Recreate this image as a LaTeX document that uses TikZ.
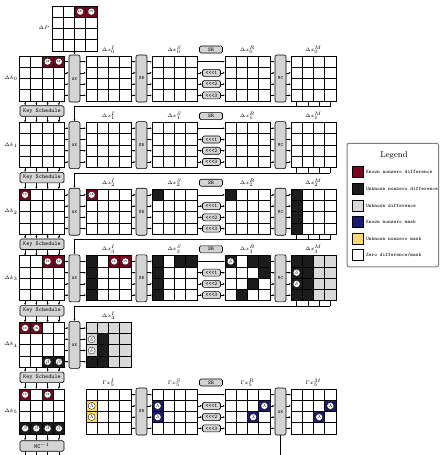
\documentclass[tikz,border=0pt]{standalone}
\usepackage{amsmath}
\usepackage{fontspec}
\usepackage{tikz}
\usetikzlibrary{arrows.meta}

\definecolor{kred}{RGB}{122,0,32}
\definecolor{kblack}{RGB}{28,28,28}
\definecolor{kgrey}{RGB}{217,217,217}
\definecolor{kblue}{RGB}{26,26,112}
\definecolor{kyellow}{RGB}{255,217,102}
\definecolor{boxgrey}{RGB}{212,212,212}

% 4x4 state: name, left x, top y
\newcommand{\stategrid}[3]{%
  \foreach \gi in {0,...,3}{%
    \foreach \gj in {0,...,3}{%
      \node[cell] (#1-\gi-\gj) at ({#2+5.625+11.25*\gj},{#3+5.625+11.25*\gi}) {};
    }
  }
}
\newcommand{\paintcells}[2]{\foreach \cl in {#2}{\node[cell,fill=#1] (\cl-p) at (\cl) {};}}
\newcommand{\cellvals}[2]{\foreach \cl in {#2}{\node[val] (\cl-v) at (\cl) {$#1$};}}

\begin{document}
\begin{tikzpicture}[x=1pt,y=-1pt,
  cell/.style={draw,line width=0.9pt,minimum size=11.25pt,inner sep=0pt,outer sep=0pt},
  val/.style={circle,fill=white,draw=black,line width=0.3pt,minimum size=7pt,inner sep=0pt,font=\fontsize{4.5}{5}\selectfont},
  opbox/.style={draw,line width=0.6pt,fill=boxgrey,rounded corners=2pt,minimum width=11pt,minimum height=47pt,inner sep=0pt,font=\fontsize{4.8}{5}\selectfont\ttfamily},
  srbox/.style={draw,line width=0.6pt,fill=boxgrey,rounded corners=1.5pt,minimum width=23pt,minimum height=7pt,inner sep=0pt,font=\fontsize{5.5}{6}\selectfont\ttfamily},
  rotbox/.style={srbox,minimum width=18pt},
  ksbox/.style={srbox,minimum width=44pt,minimum height=10.5pt,font=\fontsize{5.9}{6}\selectfont\ttfamily},
  lab/.style={inner sep=0pt,font=\fontsize{5.5}{6}\selectfont},
  arr/.style={line width=0.6pt,-{Latex[length=2.2pt,width=2pt]}},
  conn/.style={line width=0.6pt},
  swatch/.style={draw,line width=0.8pt,minimum size=11pt,inner sep=0pt},
  legtext/.style={inner sep=0pt,anchor=west,font=\fontsize{5.2}{6}\selectfont\ttfamily}]
\useasboundingbox (0,0) rectangle (439,455);

% plaintext difference
\stategrid{p}{52}{6}
\node[lab] (p-lab) at (44,28) {$\Delta P$};

% full rounds
\foreach \rw/\y in {0/56,1/122.6,2/189.2,3/255.8}{
  \stategrid{k\rw}{19.5}{\y}
  \stategrid{xi\rw}{86}{\y}
  \stategrid{xs\rw}{152}{\y}
  \stategrid{xr\rw}{225}{\y}
  \stategrid{xm\rw}{291}{\y}
  \node[opbox] (ak\rw) at (74.5,\y+22.5) {AK};
  \node[opbox] (sb\rw) at (141.5,\y+22.5) {SB};
  \node[opbox] (mc\rw) at (280.5,\y+22.5) {MC};
  \node[srbox] (sr\rw) at (211,\y-6.5) {SR};
  \node[lab] (k\rw-lab) at (11,\y+22.5) {$\Delta k_{\rw}$};
  \node[lab] (xi\rw-lab) at (108.5,\y-6.5) {$\Delta x_{\rw}^{I}$};
  \node[lab] (xs\rw-lab) at (174.5,\y-6.5) {$\Delta x_{\rw}^{S}$};
  \node[lab] (xr\rw-lab) at (247.5,\y-6.5) {$\Delta x_{\rw}^{R}$};
  \node[lab] (xm\rw-lab) at (313.5,\y-6.5) {$\Delta x_{\rw}^{M}$};
  \foreach \ii in {1,2,3}
    \node[rotbox] (rot\rw\ii) at (211.5,\y+5.625+11.25*\ii) {<<<\ii};
  \foreach \ii in {0,...,3}{
    \draw[arr] (k\rw-\ii-3.east) -- (k\rw-\ii-3.east -| ak\rw.west);
    \draw[arr] (xi\rw-\ii-0.west -| ak\rw.east) -- (xi\rw-\ii-0.west);
    \draw[arr] (xi\rw-\ii-3.east) -- (xi\rw-\ii-3.east -| sb\rw.west);
    \draw[arr] (xs\rw-\ii-0.west -| sb\rw.east) -- (xs\rw-\ii-0.west);
    \draw[arr] (xr\rw-\ii-3.east) -- (xr\rw-\ii-3.east -| mc\rw.west);
    \draw[arr] (xm\rw-\ii-0.west -| mc\rw.east) -- (xm\rw-\ii-0.west);
  }
  \draw[arr] (xs\rw-0-3.east) -- (xr\rw-0-0.west);
  \foreach \ii in {1,2,3}{
    \draw[arr] (xs\rw-\ii-3.east) -- (rot\rw\ii.west);
    \draw[arr] (rot\rw\ii.east) -- (xr\rw-\ii-0.west);
  }
}
\draw[arr] (p-3-1.south east) -- (ak0.north);

% round 4 (partial)
\stategrid{k4}{19.5}{322.4}
\stategrid{xi4}{86}{322.4}
\node[opbox] (ak4) at (74.5,344.9) {AK};
\node[lab] (k4-lab) at (11,344.9) {$\Delta k_{4}$};
\node[lab] (xi4-lab) at (108.5,315.9) {$\Delta x_{4}^{I}$};
\foreach \ii in {0,...,3}{
  \draw[arr] (k4-\ii-3.east) -- (k4-\ii-3.east -| ak4.west);
  \draw[arr] (xi4-\ii-0.west -| ak4.east) -- (xi4-\ii-0.west);
}

% round 5 (masks)
\stategrid{k5}{19.5}{389}
\stategrid{gi5}{86}{389}
\stategrid{gs5}{152}{389}
\stategrid{gr5}{225}{389}
\stategrid{gm5}{291}{389}
\node[opbox] (sb5) at (141.5,411.5) {SB};
\node[opbox] (ak5) at (280.5,411.5) {AK};
\node[srbox] (sr5) at (211,382.5) {SR};
\node[lab] (k5-lab) at (11,411.5) {$\Delta k_{5}$};
\node[lab] (gi5-lab) at (108.5,382.5) {$\Gamma x_{5}^{I}$};
\node[lab] (gs5-lab) at (174.5,382.5) {$\Gamma x_{5}^{S}$};
\node[lab] (gr5-lab) at (247.5,382.5) {$\Gamma x_{5}^{R}$};
\node[lab] (gm5-lab) at (313.5,382.5) {$\Gamma x_{5}^{M}$};
\foreach \ii in {1,2,3}
  \node[rotbox] (rot5\ii) at (211.5,394.625+11.25*\ii) {<<<\ii};
\foreach \ii in {0,...,3}{
  \draw[arr] (gi5-\ii-3.east) -- (gi5-\ii-3.east -| sb5.west);
  \draw[arr] (gs5-\ii-0.west -| sb5.east) -- (gs5-\ii-0.west);
  \draw[arr] (gr5-\ii-3.east) -- (gr5-\ii-3.east -| ak5.west);
  \draw[arr] (gm5-\ii-0.west -| ak5.east) -- (gm5-\ii-0.west);
}
\draw[arr] (gs5-0-3.east) -- (gr5-0-0.west);
\foreach \ii in {1,2,3}{
  \draw[arr] (gs5-\ii-3.east) -- (rot5\ii.west);
  \draw[arr] (rot5\ii.east) -- (gr5-\ii-0.west);
}
\coordinate (kin) at (280.5,456);
\draw[conn] (kin) -- (ak5.south);

% key schedule
\foreach \rw/\nx/\y in {0/1/56,1/2/122.6,2/3/189.2,3/4/255.8,4/5/322.4}{
  \node[ksbox] (ks\rw) at (42,\y+55) {Key Schedule};
  \foreach \jj in {0,...,3}{
    \draw[arr] (k\rw-3-\jj.south) -- (k\rw-3-\jj.south |- ks\rw.north);
    \draw[arr] (ks\rw.south -| k\nx-0-\jj) -- (k\nx-0-\jj.north);
  }
}
\node[ksbox] (mci) at (42,446) {MC$^{-1}$};
\coordinate (out) at (0,456);
\foreach \jj in {0,...,3}{
  \draw[arr] (k5-3-\jj.south) -- (k5-3-\jj.south |- mci.north);
  \draw[conn] (mci.south -| k5-3-\jj) -- (out -| k5-3-\jj);
}

% state feedback to next round
\foreach \rw/\nx/\y in {0/1/56,1/2/122.6,2/3/189.2,3/4/255.8}{
  \coordinate (fb\rw) at (74.5,\y+50.5);
  \foreach \jj in {0,...,3}
    \draw[conn] (xm\rw-3-\jj.south) -- (xm\rw-3-\jj.south |- fb\rw);
  \draw[arr] (xm\rw-3-3.south |- fb\rw) -- (fb\rw) -- (ak\nx.north);
}

% differences and masks
\paintcells{kred}{p-0-2,p-0-3,k0-0-2,k0-0-3,k2-0-0,xi2-0-0,k3-0-2,k3-0-3,xi3-0-2,xi3-0-3,k4-0-0,k4-0-1,k5-0-0,k5-0-2}
\paintcells{kblack}{xs2-0-0,xr2-0-0,xm2-0-0,xm2-1-0,xm2-2-0,xm2-3-0,
  xi3-0-0,xi3-1-0,xi3-2-0,xi3-3-0,xs3-0-0,xs3-1-0,xs3-2-0,xs3-3-0,xs3-0-2,xs3-0-3,
  xr3-0-0,xr3-0-2,xr3-0-3,xr3-1-3,xr3-2-2,xr3-3-1,
  xm3-0-0,xm3-1-0,xm3-2-0,xm3-3-0,xm3-0-1,xm3-1-1,xm3-2-1,xm3-3-1,
  k4-3-2,k4-3-3,xi4-1-1,xi4-2-1,xi4-3-1,xi4-3-0,k5-3-0,k5-3-1,k5-3-2,k5-3-3}
\paintcells{kgrey}{xm3-0-2,xm3-1-2,xm3-2-2,xm3-3-2,xm3-0-3,xm3-1-3,xm3-2-3,xm3-3-3,
  xi4-0-0,xi4-0-1,xi4-0-2,xi4-0-3,xi4-1-0,xi4-2-0,xi4-1-2,xi4-1-3,xi4-2-2,xi4-2-3,xi4-3-2,xi4-3-3}
\paintcells{kyellow}{gi5-1-0,gi5-2-0}
\paintcells{kblue}{gs5-1-0,gs5-2-0,gr5-1-3,gr5-2-2,gm5-1-3,gm5-2-2}
\cellvals{\alpha}{p-0-2,p-0-3,k0-0-2,k0-0-3,k2-0-0,xi2-0-0,k3-0-2,k3-0-3,xi3-0-2,xi3-0-3,k4-0-0,k4-0-1,k5-0-0,k5-0-2}
\cellvals{\delta}{xr3-0-0,xm3-1-0,xm3-2-0,xi4-1-0,xi4-2-0}
\cellvals{\beta}{k4-3-2,k4-3-3,k5-3-0,k5-3-1,k5-3-2,k5-3-3}
\cellvals{\lambda}{gi5-1-0,gi5-2-0,gs5-1-0,gs5-2-0,gr5-1-3,gr5-2-2,gm5-1-3,gm5-2-2}

% legend
\node[draw=gray,line width=1pt,rounded corners=2pt,minimum width=91.5pt,minimum height=123.5pt] (leg) at (392.75,205) {};
\node[font=\fontsize{8.5}{9}\selectfont] (leg-t) at (394,155) {Legend};
\foreach \col/\txt [count=\q] in {kred/{Known nonzero difference},kblack/{Unknown nonzero difference},
  kgrey/{Unknown difference},kblue/{Known nonzero mask},kyellow/{Unknown nonzero mask},white/{Zero difference/mask}}{
  \node[swatch,fill=\col] (sw\q) at (357.5,155.7+16.6*\q) {};
  \node[legtext] (lt\q) at ([xshift=2.5pt]sw\q.east) {\txt};
}
\end{tikzpicture}
\end{document}
